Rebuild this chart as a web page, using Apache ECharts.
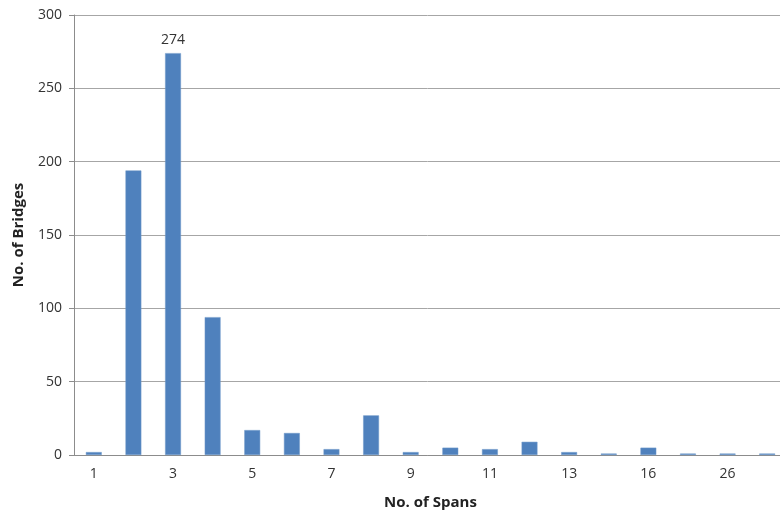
<!DOCTYPE html>
<html>
<head>
<meta charset="utf-8">
<script src="https://cdn.jsdelivr.net/npm/echarts@6/dist/echarts.min.js"></script>
<style>
html,body{margin:0;padding:0;background:#fff;}
#chart{width:780px;height:512px;}
</style>
</head>
<body>
<div id="chart"></div>
<script>
// Number of spans per bridge and how many bridges have that count
const spans = ['1','2','3','4','5','6','7','8','9','10','11','12','13','14','16','18','26','30'];
const bridges = [2, 194, 274, 94, 17, 15, 4, 27, 2, 5, 4, 9, 2, 1, 5, 1, 1, 1];
const yTicks = [0, 50, 100, 150, 200, 250, 300];
const labelledSpan = '3';

const font = '"Open Sans", "Liberation Sans", sans-serif';
const chart = echarts.init(document.getElementById('chart'));

chart.setOption({
  animation: false,
  // plot area runs slightly past the right edge of the canvas
  grid: { left: 74, top: 15, width: 713, height: 440, outerBoundsMode: 'none', containLabel: false },
  xAxis: {
    type: 'category',
    data: spans,
    name: 'No. of Spans',
    nameLocation: 'middle',
    nameGap: 40,
    nameTextStyle: { fontFamily: font, fontWeight: 'bold', fontSize: 15, color: '#222' },
    axisLine: { lineStyle: { color: '#8c8c8c' } },
    axisTick: { length: 5, lineStyle: { color: '#8c8c8c' } },
    axisLabel: { interval: 1, fontFamily: font, fontSize: 14, color: '#333', margin: 12 }
  },
  yAxis: {
    type: 'value',
    min: yTicks[0],
    max: yTicks[yTicks.length - 1],
    interval: yTicks[1] - yTicks[0],
    name: 'No. of Bridges',
    nameLocation: 'middle',
    nameGap: 48,
    nameTextStyle: { fontFamily: font, fontWeight: 'bold', fontSize: 15, color: '#222' },
    axisLine: { show: true, lineStyle: { color: '#8c8c8c' } },
    axisTick: { show: true, length: 5, lineStyle: { color: '#8c8c8c' } },
    axisLabel: { fontFamily: font, fontSize: 14, color: '#333', margin: 12 },
    splitLine: { lineStyle: { color: '#a6a6a6' } }
  },
  series: [{
    type: 'bar',
    barWidth: '40%',
    data: bridges.map((v, i) => ({
      value: v,
      label: spans[i] === labelledSpan
        ? { show: true, position: 'top', distance: 6, fontFamily: font, fontSize: 14, color: '#333' }
        : { show: false }
    })),
    itemStyle: { color: '#4f81bd', borderColor: '#6f98c9', borderWidth: 0.5 }
  }]
});
</script>
</body>
</html>
